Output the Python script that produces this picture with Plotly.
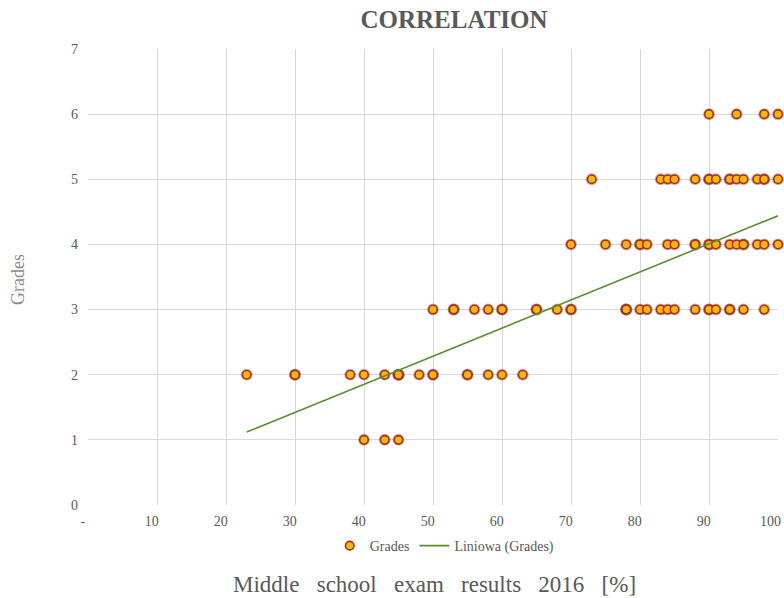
import plotly.graph_objects as go

# ---- data ----
grade6_x = [90, 94, 98, 100]
grade5_x = [73, 83, 84, 85, 88, 90, 90, 91, 93, 93, 94, 95, 97, 98, 98, 100]
grade4_x = [70, 75, 78, 80, 80, 81, 84, 85, 88, 88, 90, 90, 91, 93, 94, 95, 95, 97, 98, 100]
grade3_x = [50, 53, 53, 56, 58, 60, 60, 65, 65, 68, 70, 70, 78, 78, 78, 80, 81, 83, 84, 85,
            88, 90, 90, 91, 93, 93, 95, 98]
grade2_x = [23, 30, 30, 38, 40, 43, 45, 45, 45, 48, 50, 50, 55, 55, 58, 60, 63]
grade1_x = [40, 43, 45]

trend_x = [23, 100]
trend_y = [1.12, 4.44]

x_tickvals = [0, 10, 20, 30, 40, 50, 60, 70, 80, 90, 100]
x_ticktext = ["-", "10", "20", "30", "40", "50", "60", "70", "80", "90", "100"]
y_tickvals = [0, 1, 2, 3, 4, 5, 6, 7]

xs, ys = [], []
for g, arr in [(6, grade6_x), (5, grade5_x), (4, grade4_x), (3, grade3_x), (2, grade2_x), (1, grade1_x)]:
    xs += arr
    ys += [g] * len(arr)

SERIF = "Liberation Serif, Times New Roman, serif"
GRAY = "#595959"
PAD = "&nbsp;&nbsp;&nbsp;"  # nudges the x labels a little left, as in the reference
x_labels = [t + PAD for t in x_ticktext[:-1]] + [""]  # last label drawn as an annotation

fig = go.Figure()
# soft shadow halo (stacks darker where points coincide)
fig.add_trace(go.Scatter(
    x=xs, y=ys, mode="markers", showlegend=False, hoverinfo="skip", cliponaxis=False,
    marker=dict(size=12, color="rgba(50,10,0,0.28)", line=dict(width=0)),
))
fig.add_trace(go.Scatter(
    x=xs, y=ys, mode="markers", name="Grades", cliponaxis=False,
    marker=dict(size=8.5, color="#FFBA00", line=dict(color="#B22A1A", width=1.6)),
))
fig.add_trace(go.Scatter(
    x=trend_x, y=trend_y, mode="lines", name="Liniowa (Grades)", cliponaxis=False,
    line=dict(color="#5a8f30", width=1.6),
))

fig.update_layout(
    template="none",
    width=784, height=598,
    margin=dict(l=88, r=6, t=49, b=93),
    paper_bgcolor="white", plot_bgcolor="white",
    font=dict(family=SERIF, color=GRAY, size=14),
    title=dict(text="<b>CORRELATION</b>", x=454 / 784, xanchor="center",
               y=1 - 19 / 598, yanchor="middle",
               font=dict(family=SERIF, size=25, color=GRAY)),
    legend=dict(orientation="h", x=0.517, xanchor="center", y=-0.09, yanchor="middle",
                font=dict(family=SERIF, size=14, color=GRAY), itemwidth=30,
                bgcolor="rgba(0,0,0,0)"),
    showlegend=True,
    xaxis=dict(range=[0, 100], tickvals=x_tickvals, ticktext=x_labels,
               showgrid=True, gridcolor="#d9d9d9", gridwidth=1,
               zeroline=False, showline=False, ticks="",
               ticklabelstandoff=6, ticklabeloverflow="allow",
               tickfont=dict(family=SERIF, size=14, color=GRAY)),
    yaxis=dict(range=[0, 7], tickvals=y_tickvals,
               showgrid=True, gridcolor="#d9d9d9", gridwidth=1,
               zeroline=False, showline=False, ticks="",
               ticklabelstandoff=9,
               tickfont=dict(family=SERIF, size=14, color=GRAY)),
)

# last x tick label, kept inside the page edge
fig.add_annotation(text=x_ticktext[-1], xref="x", yref="paper", x=x_tickvals[-1], y=0,
                   xanchor="right", yanchor="top", xshift=5, yshift=-7, showarrow=False,
                   font=dict(family=SERIF, size=14, color=GRAY))

NB = "&nbsp;&nbsp;"
fig.add_annotation(text=(" " + NB).join(["Middle", "school", "exam", "results", "2016", "[%]"]),
                   xref="paper", yref="paper",
                   x=(434 - 88) / 690, y=(505 - 584) / 456, xanchor="center", yanchor="middle",
                   showarrow=False, font=dict(family=SERIF, size=23, color=GRAY))
fig.add_annotation(text="Grades", xref="paper", yref="paper", textangle=-90,
                   x=(18 - 88) / 690, y=(505 - 280) / 456, xanchor="center", yanchor="middle",
                   showarrow=False, font=dict(family=SERIF, size=18, color="#8c8c8c"))

fig.write_html("out.html", config={"displayModeBar": False},
               post_script="document.body.style.margin='0';document.body.style.overflow='hidden';")
